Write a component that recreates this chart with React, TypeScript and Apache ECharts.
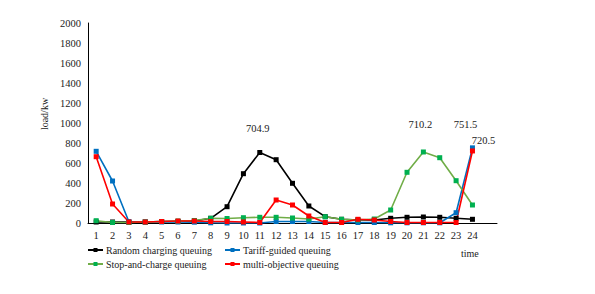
import React, { useEffect, useRef } from "react";
import * as echarts from "echarts";

const categories = ["1","2","3","4","5","6","7","8","9","10","11","12","13","14","15","16","17","18","19","20","21","22","23","24",""];
const randomCharging = [10,10,10,10,15,15,20,47,163,493,704.9,633,397,170,63,37,30,30,47,57,60,57,47,37];
const tariffGuided = [717,420,12,10,10,10,8,2,0,0,0,15,15,15,5,5,5,5,2,2,2,2,103,751.5];
const stopAndCharge = [23,5,5,10,15,20,25,47,45,53,57,57,50,40,63,37,30,40,130,507,710.2,653,423,180];
const multiObjective = [663,190,10,10,15,20,20,15,15,10,5,230,180,70,5,5,37,30,15,5,5,5,5,720.5];
const yTicks = { min: 0, max: 2000, interval: 200 };

const FONT = "'Liberation Serif', 'Times New Roman', serif";

function withLabels(values: number[], labels: Record<number, any>) {
  return values.map((v, i) =>
    labels[i] ? { value: v, label: { show: true, formatter: String(v), ...labels[i] } } : v
  );
}

export default function App() {
  const ref = useRef<HTMLDivElement>(null);
  useEffect(() => {
    document.body.style.margin = "0";
    if (!ref.current) return;
    const chart = echarts.init(ref.current, undefined, { renderer: "svg" });
    const labelStyle = { fontFamily: FONT, fontSize: 10.5, color: "#222" };
    const mk = (name: string, data: any[], line: string, marker: string) => ({
      name,
      type: "line",
      data,
      symbol: "rect",
      symbolSize: 5,
      lineStyle: { color: line, width: 1.6 },
      itemStyle: { color: marker },
      emphasis: { disabled: true },
    });
    const legendText = { fontFamily: FONT, fontSize: 10, color: "#222", padding: [0, 0, 0, -2] };
    chart.setOption({
      animation: false,
      textStyle: { fontFamily: FONT },
      grid: { left: 88, right: 98, top: 23, bottom: 71 },
      xAxis: {
        type: "category",
        data: categories,
        boundaryGap: true,
        axisLine: { lineStyle: { color: "#000", width: 1 } },
        axisTick: { show: false },
        axisLabel: { fontFamily: FONT, fontSize: 10.5, color: "#222", margin: 7, interval: 0 },
      },
      yAxis: {
        type: "value",
        ...yTicks,
        name: "load/kw",
        nameLocation: "middle",
        nameRotate: 90,
        nameGap: 30,
        nameTextStyle: { fontFamily: FONT, fontSize: 10, color: "#222", padding: [0, 0, 0, 18] },
        splitLine: { show: false },
        axisLine: { show: true, lineStyle: { color: "#000", width: 1 } },
        axisTick: { show: false },
        axisLabel: { fontFamily: FONT, fontSize: 10.5, color: "#222", margin: 7, formatter: (v: number) => String(v) },
      },
      legend: [
        {
          orient: "vertical",
          left: 82,
          top: 240,
          itemGap: 4,
          itemWidth: 15,
          itemHeight: 5,
          data: ["Random charging queuing", "Stop-and-charge queuing"],
          textStyle: legendText,
        },
        {
          orient: "vertical",
          left: 219,
          top: 240,
          itemGap: 4,
          itemWidth: 15,
          itemHeight: 5,
          data: ["Tariff-guided queuing", "multi-objective queuing"],
          textStyle: legendText,
        },
      ],
      graphic: [
        {
          type: "text",
          left: 461,
          top: 248,
          style: { text: "time", font: `10px ${FONT}`, fill: "#222" },
        },
      ],
      series: [
        mk("Random charging queuing",
          withLabels(randomCharging, { 10: { position: "top", distance: 16, offset: [-2, 0], ...labelStyle } }),
          "#000000", "#000000"),
        mk("Tariff-guided queuing",
          withLabels(tariffGuided, { 23: { position: "top", distance: 15, offset: [-7, 0], ...labelStyle } }),
          "#0070C0", "#0070C0"),
        mk("Stop-and-charge queuing",
          withLabels(stopAndCharge, { 20: { position: "top", distance: 19, offset: [-3, 0], ...labelStyle } }),
          "#70AD47", "#00B050"),
        mk("multi-objective queuing",
          withLabels(multiObjective, { 23: { position: "top", distance: 2, offset: [11, 0], ...labelStyle } }),
          "#FF0000", "#FF0000"),
      ],
    });
    return () => chart.dispose();
  }, []);
  return <div ref={ref} style={{ width: 595, height: 294 }} />;
}
